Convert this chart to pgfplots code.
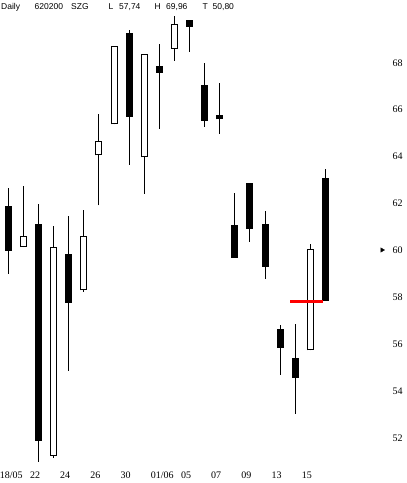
\documentclass[border=0pt]{standalone}
\usepackage{fontspec}
\setmainfont{Liberation Sans}
\newfontfamily\serifticks{Liberation Serif}
\usepackage{pgfplots}
\pgfplotsset{compat=1.18}
% \candle{position}{low}{body low}{body high}{high}{up=1 (white) / down=0 (black)}
\newcommand{\candle}[6]{%
  \addplot[black, line width=1pt, mark=none] coordinates {(#1,#2) (#1,#5)};
  \addplot[black, line width=7pt, mark=none, line cap=butt] coordinates {(#1,#3) (#1,#4)};
  \ifnum#6=1
  \addplot[white, line width=5pt, mark=none, line cap=butt, shorten <=1pt, shorten >=1pt] coordinates {(#1,#3) (#1,#4)};
  \fi
}
\begin{document}
\begin{tikzpicture}
\begin{axis}[
  at={(-0.76pt,0pt)}, anchor=south west,
  scale only axis, width=407.7pt, height=483pt,
  xmin=-0.6, xmax=26.4, ymin=50.064, ymax=70.661,
  axis line style={draw=none}, major tick length=0pt,
  clip=false,
  xtick={-0.576,1.424,3.424,5.424,7.424,9.424,11.424,13.424,15.424,17.424,19.424},
  xticklabels={18/05,22,24,26,30,01/06,05,07,09,13,15},
  xticklabel style={anchor=base west, inner sep=0pt, yshift=4.8pt, font=\serifticks\fontsize{10}{10}\selectfont},
  ytick={52,54,56,58,60,62,64,66,68},
  yticklabels={52,54,56,58,60,62,64,66,68},
  yticklabel pos=right,
  yticklabel style={anchor=base east, inner sep=0pt, xshift=-4.2pt, yshift=-3.7pt, font=\serifticks\fontsize{10}{10}\selectfont},
]
\candle{0}{58.98}{59.97}{61.88}{62.63}{0}
\candle{1}{60.12}{60.12}{60.58}{62.73}{1}
\candle{2}{50.97}{51.87}{61.11}{61.96}{0}
\candle{3}{51.14}{51.23}{60.12}{61.02}{1}
\candle{4}{54.85}{57.73}{59.83}{61.45}{0}
\candle{5}{58.21}{58.28}{60.58}{61.71}{1}
\candle{6}{61.90}{64.04}{64.64}{65.80}{1}
\candle{7}{65.36}{65.36}{68.70}{68.70}{1}
\candle{8}{63.64}{65.68}{69.25}{69.38}{0}
\candle{9}{62.40}{63.95}{68.36}{68.36}{1}
\candle{10}{65.17}{67.55}{67.85}{68.78}{0}
\candle{11}{68.07}{68.58}{69.64}{69.96}{1}
\candle{12}{68.46}{69.52}{69.81}{69.81}{0}
\candle{13}{65.26}{65.51}{67.04}{67.97}{0}
\candle{14}{64.95}{65.57}{65.76}{67.11}{0}
\candle{15}{59.67}{59.67}{61.07}{62.43}{0}
\candle{16}{60.35}{60.91}{62.86}{62.86}{0}
\candle{17}{58.78}{59.29}{61.11}{61.66}{0}
\candle{18}{54.68}{55.83}{56.63}{56.80}{0}
\candle{19}{53.01}{54.55}{55.39}{56.84}{0}
\candle{20}{55.72}{55.72}{60.03}{60.26}{1}
\candle{21}{57.84}{57.84}{63.07}{63.45}{0}
\addplot[red, line width=3pt, mark=none] coordinates {(18.66,57.8) (20.84,57.8)};
\addplot[only marks, mark=triangle*, mark size=2.5pt, mark options={rotate=-90, fill=black, draw=black}] coordinates {(24.75,60)};
\end{axis}
\pgfresetboundingbox
\useasboundingbox (0,0) rectangle (407pt,483pt);
\begin{scope}[every node/.style={anchor=base west, inner sep=0pt, font=\fontsize{8.5}{8.5}\selectfont}]
\node at (1pt,473pt) {Daily};
\node at (34.5pt,473pt) {620200};
\node at (71pt,473pt) {SZG};
\node at (108.5pt,473pt) {L};
\node at (119pt,473pt) {57,74};
\node at (154.5pt,473pt) {H};
\node at (166pt,473pt) {69,96};
\node at (202.5pt,473pt) {T};
\node at (212.5pt,473pt) {50,80};
\end{scope}
\end{tikzpicture}
\end{document}
